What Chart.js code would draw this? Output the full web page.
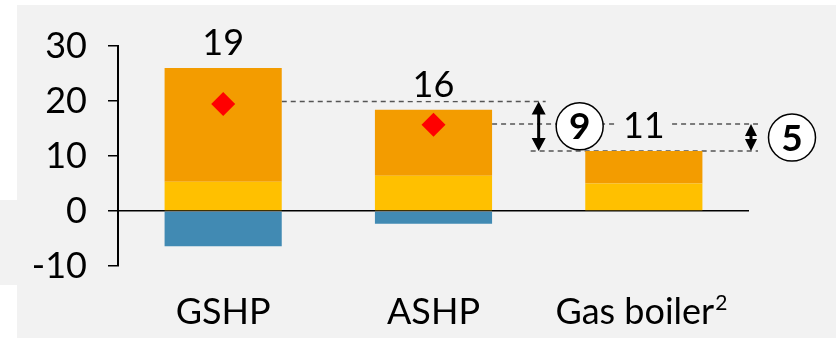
<!DOCTYPE html>
<html>
<head>
<meta charset="utf-8">
<script src="https://cdn.jsdelivr.net/npm/chart.js@4/dist/chart.umd.min.js"></script>
<style>
  html, body { margin: 0; padding: 0; background: #fff; }
  #wrap { width: 836px; height: 338px; }
</style>
</head>
<body>
<div id="wrap"><canvas id="grafico" width="836" height="338"></canvas></div>
<script>
// dados
const categorias = ['GSHP', 'ASHP', 'Gas boiler²'];
const valAmarelo = [5.3, 6.4, 5.0];
const valLaranja = [20.7, 12.0, 5.9];
const valAzul = [-6.4, -2.3, null];
const valLiquido = [19.45, 15.7, null];
const rotulosTotal = ['19', '16', '11'];
const yTicks = [-10, 0, 10, 20, 30];
// níveis das setas de diferença (topo, meio, base) e os números nos círculos
const niveis = [19.9, 15.8, 10.9];
const rotulosDif = ['9', '5'];

const FONTE = 'Lato, "Noto Sans", sans-serif';
const TAM = 36;
const CINZA = '#f2f2f2';
const ESPACO = '\u2002';

// fundo cinza com o recorte da esquerda
const fundo = {
    id: 'fundo',
    beforeDraw(chart) {
        const c = chart.ctx;
        c.save();
        c.fillStyle = '#fff';
        c.fillRect(0, 0, chart.width, chart.height);
        c.fillStyle = CINZA;
        c.fillRect(17, 5, chart.width - 17, chart.height - 5);
        c.fillRect(0, 200, 17, 85);
        c.restore();
    }
};

function linhaTracejada(c, x1, x2, y) {
    c.save();
    c.strokeStyle = '#555';
    c.lineWidth = 1.5;
    c.setLineDash([5, 4]);
    c.beginPath();
    c.moveTo(x1, y);
    c.lineTo(x2, y);
    c.stroke();
    c.restore();
}

function seta(c, x, y1, y2, meia, comp) {
    c.save();
    c.fillStyle = '#000';
    c.strokeStyle = '#000';
    c.lineWidth = 3;
    c.beginPath();
    c.moveTo(x, y1 + comp - 1);
    c.lineTo(x, y2 - comp + 1);
    c.stroke();
    c.beginPath();
    c.moveTo(x, y1); c.lineTo(x - meia, y1 + comp); c.lineTo(x + meia, y1 + comp); c.closePath();
    c.moveTo(x, y2); c.lineTo(x - meia, y2 - comp); c.lineTo(x + meia, y2 - comp); c.closePath();
    c.fill();
    c.restore();
}

function circulo(c, x, y, txt) {
    c.save();
    c.beginPath();
    c.arc(x, y, 23.5, 0, Math.PI * 2);
    c.fillStyle = '#fff';
    c.fill();
    c.lineWidth = 1.5;
    c.strokeStyle = '#000';
    c.stroke();
    c.fillStyle = '#000';
    c.font = 'bold 37px ' + FONTE;
    c.textAlign = 'center';
    c.textBaseline = 'alphabetic';
    c.fillText(txt, x, y + 13);
    c.restore();
}

function barras(chart) {
    // retângulos da pilha (laranja é o topo)
    return chart.getDatasetMeta(2).data;
}

// linhas tracejadas por baixo das barras
const tracejado = {
    id: 'tracejado',
    beforeDatasetsDraw(chart) {
        const c = chart.ctx;
        const y = chart.scales.y;
        const b = barras(chart);
        const direita = chart.chartArea.right;
        const xSeta1 = (b[1].x + b[1].width / 2 + b[2].x - b[2].width / 2) / 2;
        linhaTracejada(c, b[0].x + b[0].width / 2, xSeta1 + 7, y.getPixelForValue(niveis[0]));
        linhaTracejada(c, b[1].x + b[1].width / 2, direita + 9, y.getPixelForValue(niveis[1]));
        linhaTracejada(c, xSeta1 - 8, direita + 9, y.getPixelForValue(niveis[2]));
    }
};

// totais, setas e círculos por cima
const anotacoes = {
    id: 'anotacoes',
    afterDatasetsDraw(chart) {
        const c = chart.ctx;
        const y = chart.scales.y;
        const b = barras(chart);
        const direita = chart.chartArea.right;

        c.save();
        c.font = TAM + 'px ' + FONTE;
        c.textAlign = 'center';
        c.textBaseline = 'alphabetic';
        b.forEach((bar, i) => {
            const w = c.measureText(rotulosTotal[i]).width;
            const base = bar.y - 13;
            c.fillStyle = CINZA;
            c.fillRect(bar.x - w / 2 - 5, base - 28, w + 10, 32);
            c.fillStyle = '#000';
            c.fillText(rotulosTotal[i], bar.x, base);
        });
        c.restore();

        const yA = y.getPixelForValue(niveis[0]);
        const yB = y.getPixelForValue(niveis[1]);
        const yC = y.getPixelForValue(niveis[2]);
        const xSeta1 = (b[1].x + b[1].width / 2 + b[2].x - b[2].width / 2) / 2;
        const xSeta2 = direita + 2;
        seta(c, xSeta1, yA, yC, 7, 13);
        seta(c, xSeta2, yB, yC, 6, 12);
        circulo(c, xSeta1 + 41, (yA + yC) / 2, rotulosDif[0]);
        circulo(c, xSeta2 + 41, (yB + yC) / 2, rotulosDif[1]);
    }
};

// o "²" desenhado como sobrescrito de verdade
const sobrescrito = {
    id: 'sobrescrito',
    afterDraw(chart) {
        const c = chart.ctx;
        const x = chart.scales.x;
        const meio = x.top + x.options.ticks.padding + TAM * 0.6;
        c.save();
        categorias.forEach((cat, i) => {
            if (!cat.includes('²')) return;
            const txt = cat.replace('²', '');
            c.font = TAM + 'px ' + FONTE;
            const w = c.measureText(txt).width;
            const wTotal = c.measureText(txt + ESPACO).width;
            const topoCap = meio - TAM * 0.36;
            c.font = '21px ' + FONTE;
            c.fillStyle = '#000';
            c.textAlign = 'left';
            c.textBaseline = 'alphabetic';
            c.fillText('2', x.getPixelForTick(i) - wTotal / 2 + w + 1, topoCap + 10);
        });
        c.restore();
    }
};

const ctx = document.getElementById('grafico').getContext('2d');
const myChart = new Chart(ctx, {
    type: 'bar',
    data: {
        labels: categorias,
        datasets: [
            {
                type: 'line',
                label: 'Líquido',
                data: valLiquido,
                stack: 'marcador',
                showLine: false,
                pointStyle: 'rectRot',
                pointRadius: 12,
                pointBackgroundColor: '#ff0000',
                pointBorderWidth: 0,
                order: 0
            },
            { label: 'Amarelo', data: valAmarelo, backgroundColor: '#ffc000', stack: 'pilha', order: 1 },
            { label: 'Laranja', data: valLaranja, backgroundColor: '#f39c00', stack: 'pilha', order: 1 },
            { label: 'Azul', data: valAzul, backgroundColor: '#418ab3', stack: 'pilha', order: 1 }
        ]
    },
    options: {
        responsive: false,
        animation: false,
        barPercentage: 1,
        categoryPercentage: 0.557,
        layout: { padding: { top: 46, right: 87, bottom: 0, left: 32 } },
        scales: {
            x: {
                grid: { display: false, drawTicks: false },
                border: { display: false },
                afterFit: s => { s.height = 72; },
                ticks: {
                    color: '#000',
                    font: { family: FONTE, size: TAM },
                    padding: 25,
                    // o sobrescrito entra depois; o espaço guarda o lugar dele
                    callback: function (v, i) {
                        const cat = categorias[i];
                        return cat.includes('²') ? cat.replace('²', '') + ESPACO : cat;
                    }
                }
            },
            y: {
                stacked: true,
                min: -10,
                max: 30,
                afterFit: s => { s.width = 86; },
                afterBuildTicks: axis => { axis.ticks = yTicks.map(v => ({ value: v })); },
                grid: {
                    color: c => c.tick && c.tick.value === 0 ? '#000' : 'transparent',
                    tickColor: '#000',
                    tickLength: 10,
                    lineWidth: 1.5
                },
                border: { display: true, color: '#000', width: 2 },
                ticks: { color: '#000', font: { family: FONTE, size: TAM }, padding: 21 }
            }
        },
        plugins: { legend: { display: false }, tooltip: { enabled: false } }
    },
    plugins: [fundo, tracejado, anotacoes, sobrescrito]
});
</script>
</body>
</html>
